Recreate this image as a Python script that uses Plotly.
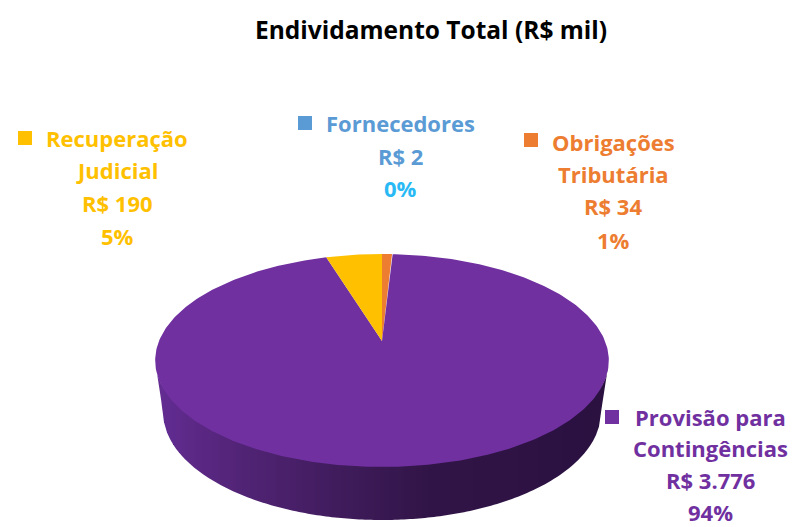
import numpy as np
import plotly.graph_objects as go

# Data, clockwise from 12 o'clock
categories = ["Obrigações Tributária", "Fornecedores", "Provisão para Contingências", "Recuperação Judicial"]
values = [34, 2, 3776, 190]
slice_colors = ["#ED7D31", "#5B9BD5", "#7030A0", "#FFC000"]

title_text = "Endividamento Total (R$ mil)"
label_lines = [
    ["Recuperação", "Judicial", "R$ 190", "5%"],
    ["Fornecedores", "R$ 2", "0%"],
    ["Obrigações", "Tributária", "R$ 34", "1%"],
    ["Provisão para", "Contingências", "R$ 3.776", "94%"],
]
label_colors = [
    ["#FFC000"] * 4,
    ["#5B9BD5", "#5B9BD5", "#29B9F5"],
    ["#ED7D31"] * 4,
    ["#7030A0"] * 4,
]
label_cx = [117, 400, 613, 710]
label_ys = [
    [138, 170, 203, 236],
    [123, 156, 188],
    [142, 174, 206, 240],
    [417, 448, 480, 512],
]
key_x = [25, 305, 531, 612]
key_y = [138, 123, 140, 417]
key_colors = ["#FFC000", "#5B9BD5", "#ED7D31", "#7030A0"]

# Pie geometry (axis units match the 793x527 page)
CX, APEX_Y, A, B, K = 382.0, 341.0, 223.0, 102.9, 0.183
TOP_CY, TOP_RX, TOP_RY = 360.5, 227.0, 100.0
BOT_CY, BOT_RX, BOT_RY = 412.0, 219.0, 108.0


def project(theta):
    u, v = np.sin(theta), np.cos(theta)
    w = 1 + K * v
    return CX + A * u / w, APEX_Y - B * v / w


def wall_color(t):
    stops = [(0.0, (100, 45, 148)), (0.19, (82, 36, 118)), (0.41, (64, 28, 92)),
             (0.6, (50, 21, 72)), (1.0, (42, 17, 64))]
    xs = [s[0] for s in stops]
    rgb = [np.interp(t, xs, [s[1][i] for s in stops]) for i in range(3)]
    return "rgb(%d,%d,%d)" % tuple(rgb)


def wall_top(x):
    c = np.clip((x - CX) / TOP_RX, -1, 1)
    return TOP_CY + TOP_RY * np.sqrt(1 - c ** 2)


def wall_bottom(x):
    c = (x - CX) / BOT_RX
    if abs(c) < 1:
        return BOT_CY + BOT_RY * np.sqrt(1 - c ** 2)
    f = (TOP_RX - abs(x - CX)) / (TOP_RX - BOT_RX)
    return TOP_CY + f * (BOT_CY - TOP_CY)


fig = go.Figure()

# Side wall as vertical bands on whole-pixel x positions
edges = np.arange(CX - TOP_RX, CX + TOP_RX + 0.5, 3.0)
for x0, x1 in zip(edges[:-1], edges[1:]):
    xs = np.linspace(x0, x1, 4)
    col = wall_color(((x0 + x1) / 2 - edges[0]) / (edges[-1] - edges[0]))
    top = [wall_top(x) for x in xs]
    bot = [wall_bottom(x) for x in xs]
    fig.add_trace(go.Scatter(
        x=np.r_[xs, xs[::-1]], y=np.r_[top, bot[::-1]],
        mode="lines", line=dict(width=0, color=col),
        fill="toself", fillcolor=col,
        hoverinfo="skip", showlegend=False))

# Top face: slices computed from the values
total = sum(values)
start = 0.0
for name, val, col in zip(categories, values, slice_colors):
    end = start + val / total * 2 * np.pi
    th = np.linspace(start, end, max(3, int(val / total * 400)))
    px, py = project(th)
    fig.add_trace(go.Scatter(
        x=np.r_[CX, px, CX], y=np.r_[APEX_Y, py, APEX_Y],
        mode="lines", line=dict(width=0, color=col),
        fill="toself", fillcolor=col, name=name,
        hoverinfo="name", showlegend=False))
    start = end

# Legend keys
fig.add_trace(go.Scatter(
    x=key_x, y=key_y, mode="markers",
    marker=dict(symbol="square", size=14, color=key_colors, line=dict(width=0)),
    hoverinfo="skip", showlegend=False))

annotations = [dict(x=431, y=29, xref="x", yref="y", text="<b>%s</b>" % title_text,
                    showarrow=False, font=dict(family="Open Sans", size=24.5, color="#000000"))]
for lines, cols, cx, ys in zip(label_lines, label_colors, label_cx, label_ys):
    for t, c, y in zip(lines, cols, ys):
        annotations.append(dict(x=cx, y=y, xref="x", yref="y", text="<b>%s</b>" % t,
                                showarrow=False, font=dict(family="Open Sans", size=22, color=c)))

fig.update_layout(
    width=793, height=527, margin=dict(l=0, r=0, t=0, b=0),
    paper_bgcolor="white", plot_bgcolor="white",
    xaxis=dict(range=[0, 793], visible=False, fixedrange=True),
    yaxis=dict(range=[527, 0], visible=False, fixedrange=True),
    annotations=annotations,
)
fig.write_html("out.html", config=dict(displayModeBar=False),
               post_script="document.body.style.margin='0';document.documentElement.style.overflow='hidden';")
